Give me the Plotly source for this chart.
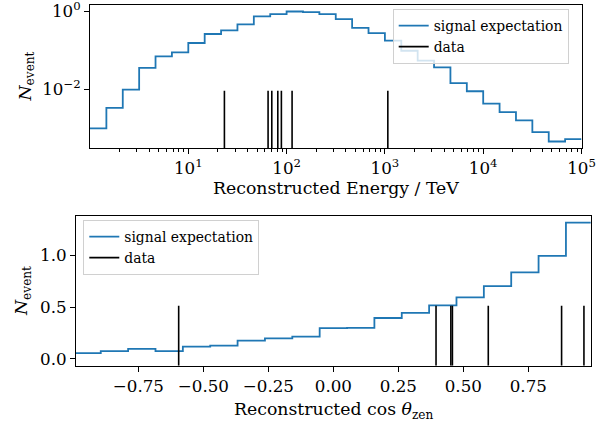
import numpy as np
import plotly.graph_objects as go

# ---------------- data ----------------
# energy histogram: 30 log-spaced bins from 1 TeV to 1e5 TeV
energy_edges = np.logspace(0, 5, 31)
energy_signal = [1.02e-3, 3.4e-3, 0.010, 0.036, 0.071, 0.090, 0.156, 0.265, 0.33, 0.47,
                 0.75, 0.86, 1.0, 0.96, 0.86, 0.64, 0.38, 0.28, 0.18, 0.099,
                 0.055, 0.037, 0.0146, 0.0091, 0.0044, 0.00266, 0.00163, 0.00082, 0.00047, 0.00054]
energy_data = [23.3, 64.8, 70.7, 81.4, 88.5, 113.7, 1071]

# cos(zenith) histogram: 19 bins from -1 to 1
cos_edges = np.linspace(-1, 1, 20)
cos_signal = [0.055, 0.074, 0.096, 0.074, 0.119, 0.128, 0.177, 0.199, 0.215, 0.298,
              0.300, 0.395, 0.444, 0.518, 0.595, 0.704, 0.836, 0.996, 1.318]
cos_data = [-0.595, 0.395, 0.452, 0.458, 0.596, 0.878, 0.964]

energy_ticks = [10, 100, 1000, 1e4, 1e5]
energy_ticktext = ["10<sup>1</sup>", "10<sup>2</sup>", "10<sup>3</sup>", "10<sup>4</sup>", "10<sup>5</sup>"]
nevent_log_ticks = [1e-2, 1]
nevent_log_ticktext = ["10<sup>\u22122</sup>", "10<sup>0</sup>"]

# ---------------- layout constants ----------------
W, H = 609, 426
FONT = "DejaVu Serif"
BLUE = "#1f77b4"
TICKF = 16.7
LABF = 17.3
LEGF = 13.9

top_yrange = [-3.494, 0.166]
bot_yrange = [-0.066, 1.384]
VFRAC = 0.4


def step_xy(edges, vals):
    return list(edges), list(vals) + [vals[-1]]


def vlines(xs, y0, y1):
    X, Y = [], []
    for x in xs:
        X += [x, x, None]
        Y += [y0, y1, None]
    return X, Y


fig = go.Figure()

# top panel
ex, ey = step_xy(energy_edges, energy_signal)
fig.add_trace(go.Scatter(x=ex, y=ey, mode="lines", line=dict(color=BLUE, width=1.8, shape="hv"),
                         name="signal expectation", xaxis="x", yaxis="y", legend="legend"))
t_lo = 10 ** top_yrange[0]
t_hi = 10 ** (top_yrange[0] + VFRAC * (top_yrange[1] - top_yrange[0]))
vx, vy = vlines(energy_data, t_lo, t_hi)
fig.add_trace(go.Scatter(x=vx, y=vy, mode="lines", line=dict(color="black", width=1.6),
                         name="data", xaxis="x", yaxis="y", legend="legend"))

# bottom panel
cx, cy = step_xy(cos_edges, cos_signal)
fig.add_trace(go.Scatter(x=cx, y=cy, mode="lines", line=dict(color=BLUE, width=1.8, shape="hv"),
                         name="signal expectation", xaxis="x2", yaxis="y2", legend="legend2"))
b_lo = bot_yrange[0]
b_hi = bot_yrange[0] + VFRAC * (bot_yrange[1] - bot_yrange[0])
vx2, vy2 = vlines(cos_data, b_lo, b_hi)
fig.add_trace(go.Scatter(x=vx2, y=vy2, mode="lines", line=dict(color="black", width=1.6),
                         name="data", xaxis="x2", yaxis="y2", legend="legend2"))

minor_vals = [m * 10 ** k for k in range(0, 5) for m in range(2, 10)]

axis_common = dict(showline=True, linecolor="black", linewidth=1.1, mirror=True,
                   ticks="outside", ticklen=5, tickwidth=1.1, tickcolor="black",
                   showgrid=False, zeroline=False, automargin=False, ticklabeloverflow="allow",
                   tickfont=dict(family=FONT, size=TICKF, color="black"))

fig.update_layout(
    width=W, height=H,
    margin=dict(l=0, r=0, t=0, b=0),
    paper_bgcolor="white", plot_bgcolor="white",
    font=dict(family=FONT, color="black"),
    xaxis=dict(axis_common, type="log", range=[0, 5], domain=[90 / W, 581.5 / W], anchor="y",
               tickmode="array", tickvals=energy_ticks, ticktext=energy_ticktext,
               minor=dict(tickvals=minor_vals, ticks="outside", ticklen=3, tickwidth=0.8,
                          tickcolor="black", showgrid=False)),
    yaxis=dict(axis_common, type="log", range=top_yrange, domain=[1 - 148 / H, 1 - 5 / H], anchor="x",
               tickmode="array", tickvals=nevent_log_ticks, ticktext=nevent_log_ticktext),
    xaxis2=dict(axis_common, range=[-0.99, 0.99], domain=[76 / W, 590.7 / W], anchor="y2",
                tickmode="array", tickvals=[-0.75, -0.5, -0.25, 0, 0.25, 0.5, 0.75], tickformat=".2f"),
    yaxis2=dict(axis_common, range=bot_yrange, domain=[1 - 365.7 / H, 1 - 215.7 / H], anchor="x2",
                tickmode="array", tickvals=[0, 0.5, 1.0], tickformat=".1f"),
    legend=dict(x=392.7 / W, y=1 - 9 / H, xanchor="left", yanchor="top",
                bgcolor="rgba(255,255,255,0.8)", bordercolor="#d0d0d0", borderwidth=1,
                font=dict(family=FONT, size=LEGF, color="black"), tracegroupgap=0),
    legend2=dict(x=83.3 / W, y=1 - 220 / H, xanchor="left", yanchor="top",
                 bgcolor="rgba(255,255,255,0.8)", bordercolor="#d0d0d0", borderwidth=1,
                 font=dict(family=FONT, size=LEGF, color="black"), tracegroupgap=0),
    annotations=[
        dict(text="Reconstructed Energy / TeV", x=335.7 / W, y=1 - 188 / H, xref="paper", yref="paper",
             xanchor="center", yanchor="middle", showarrow=False, font=dict(family=FONT, size=LABF)),
        dict(text="<i>N</i><sub>event</sub>", x=26 / W, y=1 - 76.5 / H, xref="paper", yref="paper",
             xanchor="center", yanchor="middle", showarrow=False, textangle=-90,
             font=dict(family=FONT, size=LABF)),
        dict(text="Reconstructed cos <i>\u03b8</i><sub>zen</sub>", x=333.4 / W, y=1 - 410 / H,
             xref="paper", yref="paper", xanchor="center", yanchor="middle", showarrow=False,
             font=dict(family=FONT, size=LABF)),
        dict(text="<i>N</i><sub>event</sub>", x=22 / W, y=1 - 291 / H, xref="paper", yref="paper",
             xanchor="center", yanchor="middle", showarrow=False, textangle=-90,
             font=dict(family=FONT, size=LABF)),
    ],
)

fig.write_html("out.html", config={"displayModeBar": False},
               post_script="document.body.style.margin='0px';")
